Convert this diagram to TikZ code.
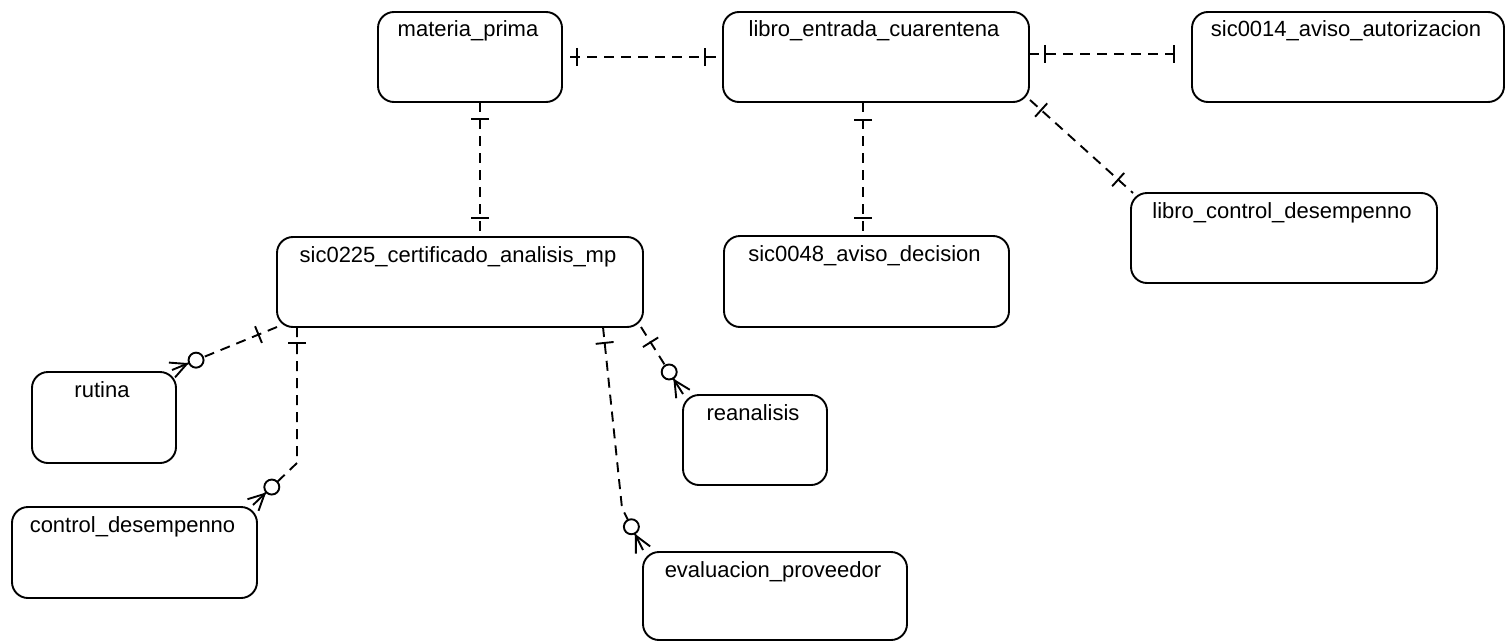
\documentclass[tikz,border=0pt]{standalone}
\usepackage{fontspec}
\setmainfont{Liberation Sans}
\usetikzlibrary{calc}
\begin{document}
\begin{tikzpicture}[x=1pt,y=-1pt,
  entitybox/.style={draw, line width=1.9pt, rounded corners=16pt, inner sep=0pt, outer sep=0pt, anchor=north west},
  entitytitle/.style={anchor=base, inner sep=0pt, font=\fontsize{22}{26}\selectfont},
  rel/.style={line width=1.9pt, dash pattern=on 10pt off 7pt},
  endmark/.style={line width=1.9pt, solid},
]
\useasboundingbox (0,0) rectangle (1506,642);

% entity: name, x, y, width, height, title
\newcommand\entity[6]{%
  \node[entitybox, minimum width=#4pt, minimum height=#5pt] (#1) at (#2,#3) {};
  \node[entitytitle] (#1-t) at ($(#1.north)+(-2,25)$) {#6};
}
% single bar across the line #1--#2, at distance #3 from #1
\newcommand\onetick[3]{%
  \coordinate (tk) at ($(#1)!#3!(#2)$);
  \draw[endmark] ($(tk)!9pt!90:(#2)$) -- ($(tk)!9pt!-90:(#2)$);
}
% zero-or-many end at #1, line coming from #2; (#3) = edge of the circle
\newcommand\zeromany[3]{%
  \coordinate (cc) at ($(#1)!26pt!(#2)$);
  \coordinate (#3) at ($(#1)!33.5pt!(#2)$);
  \coordinate (ap) at ($(#1)!16pt!(#2)$);
  \draw[endmark] (cc) circle[radius=7.5pt];
  \draw[endmark] ($(#1)!18.5pt!(#2)$) -- (ap);
  \draw[endmark] (ap) -- (#1);
  \draw[endmark] (ap) -- ($(#1)!8pt!90:(#2)$);
  \draw[endmark] (ap) -- ($(#1)!8pt!-90:(#2)$);
}

\entity{mp}{378}{12}{184}{90}{materia\_prima}
\entity{lec}{723}{12}{306}{90}{libro\_entrada\_cuarentena}
\entity{s14}{1192}{12}{312}{90}{sic0014\_aviso\_autorizacion}
\entity{lcd}{1131}{193}{306}{90}{libro\_control\_desempenno}
\entity{s48}{724}{236}{285}{91}{sic0048\_aviso\_decision}
\entity{s225}{277}{237}{366}{90}{sic0225\_certificado\_analisis\_mp}
\entity{rut}{32}{372}{144}{91}{rutina}
\entity{cd}{12}{507}{245}{91}{control\_desempenno}
\entity{rea}{683}{395}{144}{90}{reanalisis}
\entity{ev}{643}{552}{264}{88}{evaluacion\_proveedor}

% one-to-one relationships
\coordinate (a1) at ($(mp.north east)+(8,45)$);
\coordinate (b1) at ($(lec.north west)+(0,45)$);
\draw[rel] (a1) -- (b1);
\onetick{a1}{b1}{7pt} \onetick{b1}{a1}{18pt}

\coordinate (a2) at ($(mp.south west)+(102,0)$);
\coordinate (b2) at ($(s225.north west)+(203,0)$);
\draw[rel] (a2) -- (b2);
\onetick{a2}{b2}{17pt} \onetick{b2}{a2}{19pt}

\coordinate (a3) at ($(lec.south west)+(140,0)$);
\coordinate (b3) at ($(s48.north west)+(139,0)$);
\draw[rel] (a3) -- (b3);
\onetick{a3}{b3}{18pt} \onetick{b3}{a3}{18pt}

\coordinate (a4) at ($(lec.north east)+(0,42)$);
\coordinate (b4) at ($(s14.north west)+(-10,42)$);
\draw[rel] (a4) -- (b4);
\onetick{a4}{b4}{16pt} \onetick{b4}{a4}{8pt}

\coordinate (a5) at ($(lec.south east)+(1,-2)$);
\coordinate (b5) at ($(lcd.north west)+(2,0)$);
\draw[rel] (a5) -- (b5);
\onetick{a5}{b5}{15pt} \onetick{b5}{a5}{20pt}

% one-to-zero-or-many relationships
\coordinate (a6) at (s225.south west);
\coordinate (e6) at ($(rut.north east)+(-4,-2)$);
\zeromany{e6}{a6}{o6}
\draw[rel] (a6) -- (o6);
\onetick{a6}{e6}{20pt}

\coordinate (a7) at ($(s225.south west)+(20,0)$);
\coordinate (k7) at ($(s225.south west)+(20,136)$);
\coordinate (e7) at ($(cd.north east)+(-4,-2)$);
\zeromany{e7}{k7}{o7}
\draw[rel] (a7) -- (k7) -- (o7);
\onetick{a7}{k7}{16pt}

\coordinate (a8) at ($(s225.south west)+(326,0)$);
\coordinate (k8) at ($(ev.north west)+(-21,-44)$);
\coordinate (e8) at ($(ev.north west)+(0,-2)$);
\zeromany{e8}{k8}{o8}
\draw[rel] (a8) -- (k8) -- (o8);
\onetick{a8}{k8}{16pt}

\coordinate (a9) at ($(s225.south east)+(-2,0)$);
\coordinate (e9) at ($(rea.north west)+(0,-1)$);
\zeromany{e9}{a9}{o9}
\draw[rel] (a9) -- (o9);
\onetick{a9}{e9}{18pt}
\end{tikzpicture}
\end{document}
